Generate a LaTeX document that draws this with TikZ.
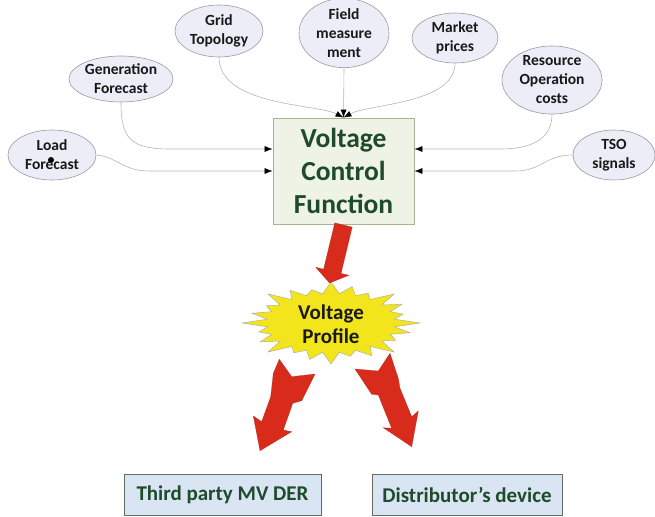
\documentclass[tikz,border=0pt]{standalone}
\usepackage{fontspec}
\setmainfont{Carlito}
\usetikzlibrary{shapes.geometric,arrows.meta,calc}
\definecolor{vgreen}{HTML}{1E4B2A}
\definecolor{boxfill}{HTML}{EEF3E5}
\definecolor{boxline}{HTML}{A6B496}
\definecolor{ovfill}{HTML}{ECEDF7}
\definecolor{ovline}{HTML}{9A9AA6}
\definecolor{bluefill}{HTML}{DAE5F4}
\definecolor{blueline}{HTML}{5E6E62}
\definecolor{redarrow}{HTML}{D92B1C}
\definecolor{staryellow}{HTML}{F3E51B}
\definecolor{connline}{HTML}{B4B4B4}
\begin{document}
\begin{tikzpicture}[x=1pt,y=-1pt,
  oval/.style={ellipse,draw=ovline,fill=ovfill,line width=0.6pt,inner sep=0pt,align=center,
    font=\fontsize{15.5}{19}\selectfont\bfseries,text=black!90},
  conn/.style={draw=connline,line width=0.6pt,-{Latex[length=8pt,width=6pt,color=black]}},
  mainbox/.style={draw=boxline,fill=boxfill,line width=0.8pt,align=center,inner sep=0pt,
    font=\fontsize{27.5}{33}\selectfont\bfseries,text=vgreen},
  outbox/.style={draw=blueline,fill=bluefill,line width=0.8pt,inner sep=0pt,
    font=\fontsize{21}{24}\selectfont\bfseries,text=vgreen},
  redarr/.style={fill=redarrow,draw=redarrow!80!black,line width=0.2pt},
  starsty/.style={fill=staryellow,draw=gray!70,line width=0.4pt}
]
\useasboundingbox (0,0) rectangle (655,516);

% ovals
\node[oval,minimum width=88pt,minimum height=50pt] (load) at (52,155) {Load\\Forecast};
\node[oval,minimum width=104pt,minimum height=46pt] (gen) at (121,79) {Generation\\Forecast};
\node[oval,minimum width=88pt,minimum height=52pt] (grid) at (219,31) {Grid\\Topology};
\node[oval,minimum width=90pt,minimum height=66pt] (field) at (344,33) {Field\\measure\\ment};
\node[oval,minimum width=86pt,minimum height=50pt] (market) at (455,38) {Market\\prices};
\node[oval,minimum width=100pt,minimum height=50pt] (res) at (552,80) {Resource\\Operation\\costs};
\node[oval,minimum width=82pt,minimum height=50pt] (tso) at (614,155) {TSO\\signals};
\fill (51,160) circle (3pt);

% main box
\node[mainbox,minimum width=141pt,minimum height=106pt] (vcf) at (343.5,171) {Voltage\\Control\\Function};

% connectors
\draw[conn] (load.east) .. controls (118,157) and (122,171) .. (150,171) -- (vcf.west);
\draw[conn] (gen.south) .. controls (121,138) and (130,149) .. (170,149) -- ($(vcf.west)+(0,-22)$);
\draw[conn] (grid.south) .. controls (219,106) and (318,104) .. (vcf.north);
\draw[conn] (field.south) -- (vcf.north);
\draw[conn] (market.south) .. controls (455,104) and (368,104) .. (vcf.north);
\draw[conn] (res.south) .. controls (552,140) and (530,149) .. (500,149) -- ($(vcf.east)+(0,-22)$);
\draw[conn] (tso.west) .. controls (545,155) and (542,171) .. (515,171) -- (vcf.east);

% starburst
\draw[starsty] plot[samples at={0,...,47},variable=\t]
  ({331+(mod(\t,2)==0 ? 1-0.08*mod(\t/2,3) : 0.72)*89*cos(\t*7.5)},
   {323+(mod(\t,2)==0 ? 1-0.08*mod(\t/2,3) : 0.72)*41*sin(\t*7.5)}) -- cycle;
\node[align=center,font=\fontsize{21}{24}\selectfont\bfseries,text=black!90] (vp) at (331,324) {Voltage\\Profile};

% red arrows
\fill[redarr] (334.8,222.9) -- (352.2,227.1) -- (341.0,273.4) -- (348.8,275.3) -- (329.5,283)
  -- (315.8,267.3) -- (323.6,269.2) -- cycle;
\fill[redarr] (279.3,359.3) -- (291.7,376.7) -- (315,374) -- (301.7,400.7) -- (292.7,403.3)
  -- (283.3,430) -- (291.7,431.7) -- (260,450.7) -- (253.3,416) -- (261.7,421.7)
  -- (270.7,396.7) -- (273.3,373.3) -- cycle;
\fill[redarr] (390,353.3) -- (398.3,378.3) -- (400,388.3) -- (411.7,416.7) -- (418.3,411)
  -- (411.7,446.7) -- (383.3,427.7) -- (391.7,428.3) -- (378.3,395) -- (371.7,394.3)
  -- (355,369) -- (378.3,371) -- cycle;

% output boxes
\node[outbox,minimum width=197pt,minimum height=41pt] (der) at (222.5,494.5) {Third party MV DER};
\node[outbox,minimum width=190pt,minimum height=41pt] (dist) at (467,494.5) {Distributor’s device};
\end{tikzpicture}
\end{document}
